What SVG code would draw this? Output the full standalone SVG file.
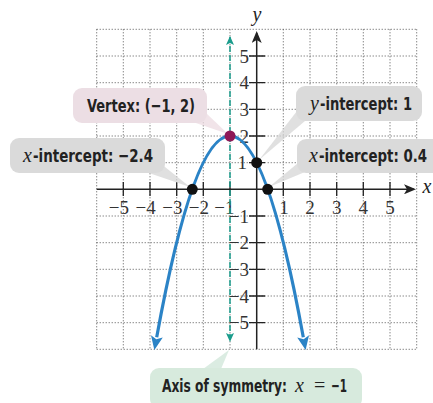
<svg xmlns="http://www.w3.org/2000/svg" width="433" height="403" viewBox="0 0 433 403">
<style>
.grid{stroke:#555;stroke-width:1;stroke-dasharray:1 2;fill:none}
.axis{stroke:#222;stroke-width:1.5;fill:none}
.tick{stroke:#222;stroke-width:1.3}
.num{font-family:"Liberation Serif","Times New Roman",serif;font-size:19px;fill:#333}
.lbl{font-family:"DejaVu Sans Condensed","Liberation Sans",sans-serif;font-weight:bold;font-size:18px;fill:#222}
.it{font-family:"Liberation Serif",serif;font-style:italic;font-weight:normal;font-size:20px;fill:#222}
.eq{font-family:"Liberation Serif",serif;font-size:20px;fill:#222}
.gray{fill:#dadada}
.ptr{opacity:0.75}
</style>
<defs>
<marker id="ab" markerUnits="userSpaceOnUse" markerWidth="14" markerHeight="12" refX="1" refY="6" orient="auto-start-reverse" viewBox="0 0 14 12">
<path d="M0,0 L14,6 L0,12 L3,6 z" fill="#2b83c6"/>
</marker>
<marker id="ak" markerUnits="userSpaceOnUse" markerWidth="12" markerHeight="10" refX="10" refY="5" orient="auto" viewBox="0 0 12 10">
<path d="M0,0 L12,5 L0,10 L3,5 z" fill="#222"/>
</marker>
<marker id="at" markerUnits="userSpaceOnUse" markerWidth="9" markerHeight="9" refX="8" refY="4.5" orient="auto-start-reverse" viewBox="0 0 9 9">
<path d="M0,0.5 L9,4.5 L0,8.5 L2,4.5 z" fill="#1a9c8c"/>
</marker>
</defs>

<g id="grid">
<path class="grid" d="M96.7,29.3V349.3M123.3,29.3V349.3M150,29.3V349.3M176.7,29.3V349.3M203.3,29.3V349.3M230,29.3V349.3M283.3,29.3V349.3M310,29.3V349.3M336.7,29.3V349.3M363.3,29.3V349.3M390,29.3V349.3M416.7,29.3V349.3"/>
<path class="grid" d="M96.7,29.3H416.7M96.7,56H416.7M96.7,82.7H416.7M96.7,109.3H416.7M96.7,136H416.7M96.7,162.7H416.7M96.7,216H416.7M96.7,242.7H416.7M96.7,269.3H416.7M96.7,296H416.7M96.7,322.7H416.7M96.7,349.3H416.7"/>
</g>

<g id="axes">
<line class="axis" x1="96.7" y1="189.3" x2="414" y2="189.3" marker-end="url(#ak)"/>
<line class="axis" x1="256.7" y1="349.3" x2="256.7" y2="33" marker-end="url(#ak)"/>
<path class="tick" d="M123.3,182V196M150,182V196M176.7,182V196M203.3,182V196M230,182V196M283.3,182V196M310,182V196M336.7,182V196M363.3,182V196M390,182V196"/>
<path class="tick" d="M249,56H265M249,82.7H265M249,109.3H265M249,136H265M249,162.7H265M249,216H265M249,242.7H265M249,269.3H265M249,296H265M249,322.7H265"/>
<text class="it" x="257" y="21" text-anchor="middle" fill="#333">y</text>
<text class="it" x="427" y="193" text-anchor="middle" fill="#333">x</text>
</g>

<g id="ticklabels">
<text class="num" x="129" y="214" text-anchor="end">−5</text>
<text class="num" x="155.7" y="214" text-anchor="end">−4</text>
<text class="num" x="182.4" y="214" text-anchor="end">−3</text>
<text class="num" x="209" y="214" text-anchor="end">−2</text>
<text class="num" x="234.5" y="214" text-anchor="end">−1</text>
<text class="num" x="284" y="214" text-anchor="middle">1</text>
<text class="num" x="310" y="214" text-anchor="middle">2</text>
<text class="num" x="336.7" y="214" text-anchor="middle">3</text>
<text class="num" x="363.3" y="214" text-anchor="middle">4</text>
<text class="num" x="390" y="214" text-anchor="middle">5</text>
<text class="num" x="249" y="62.5" text-anchor="end">5</text>
<text class="num" x="249" y="89.2" text-anchor="end">4</text>
<text class="num" x="249" y="115.8" text-anchor="end">3</text>
<text class="num" x="249" y="142.5" text-anchor="end">2</text>
<text class="num" x="247" y="169.2" text-anchor="end">1</text>
<text class="num" x="249" y="222.5" text-anchor="end">−1</text>
<text class="num" x="249" y="249.2" text-anchor="end">−2</text>
<text class="num" x="249" y="275.8" text-anchor="end">−3</text>
<text class="num" x="249" y="302.5" text-anchor="end">−4</text>
<text class="num" x="249" y="329.2" text-anchor="end">−5</text>
</g>

<g id="connectors">
<line x1="230" y1="37" x2="230" y2="341" stroke="#1a9c8c" stroke-width="1.5" stroke-dasharray="6 3" marker-start="url(#at)" marker-end="url(#at)"/>
<path d="M156.7,337.3 Q230,-65.4 303.3,337.3" fill="none" stroke="#2b83c6" stroke-width="3.2" marker-start="url(#ab)" marker-end="url(#ab)"/>
<polygon class="ptr" points="193,122 206,113 228,134" fill="#ecdbe2"/>
<polygon class="ptr" points="146,172 160,163 190,187" fill="#d6d6d6"/>
<polygon class="ptr" points="297,111 305,121 259,160" fill="#d6d6d6"/>
<polygon class="ptr" points="298,163 305,172 269,187" fill="#d6d6d6"/>
<polygon class="ptr" points="203,369 221,369 229,350" fill="#cfe6d8"/>
</g>

<g id="vertex-point"><circle cx="230" cy="136" r="5.5" fill="#8e1756"/></g>
<g id="y-int-point"><circle cx="256.7" cy="162.7" r="5.5" fill="#111"/></g>
<g id="x-int-left-point"><circle cx="192.3" cy="189.3" r="5.5" fill="#111"/></g>
<g id="x-int-right-point"><circle cx="267.7" cy="189.3" r="5.5" fill="#111"/></g>

<g id="vertex-label">
<rect x="73" y="88" width="134" height="35" rx="9" fill="#ecdee4"/>
<text class="lbl" x="87" y="112" textLength="108" lengthAdjust="spacingAndGlyphs">Vertex: (−1, 2)</text>
</g>
<g id="x-int-left-label">
<rect x="10" y="138" width="155" height="35" rx="9" class="gray"/>
<text class="it" x="23" y="162">x</text>
<text class="lbl" x="33" y="162" textLength="120" lengthAdjust="spacingAndGlyphs">-intercept: −2.4</text>
</g>
<g id="y-int-label">
<rect x="296" y="86" width="126" height="35" rx="9" class="gray"/>
<text class="it" x="310" y="110">y</text>
<text class="lbl" x="320" y="110" textLength="92" lengthAdjust="spacingAndGlyphs">-intercept: 1</text>
</g>
<g id="x-int-right-label">
<rect x="297" y="139" width="145" height="34" rx="9" class="gray"/>
<text class="it" x="309" y="162">x</text>
<text class="lbl" x="319" y="162" textLength="108" lengthAdjust="spacingAndGlyphs">-intercept: 0.4</text>
</g>
<g id="axis-label">
<rect x="150" y="368" width="212" height="40" rx="9" fill="#d7eadd"/>
<text class="lbl" x="162" y="392" textLength="125" lengthAdjust="spacingAndGlyphs">Axis of symmetry:</text>
<text class="it" x="295" y="392">x</text>
<text class="eq" x="314" y="392">=</text>
<text class="lbl" x="331" y="392" textLength="16" lengthAdjust="spacingAndGlyphs">−1</text>
</g>
</svg>
